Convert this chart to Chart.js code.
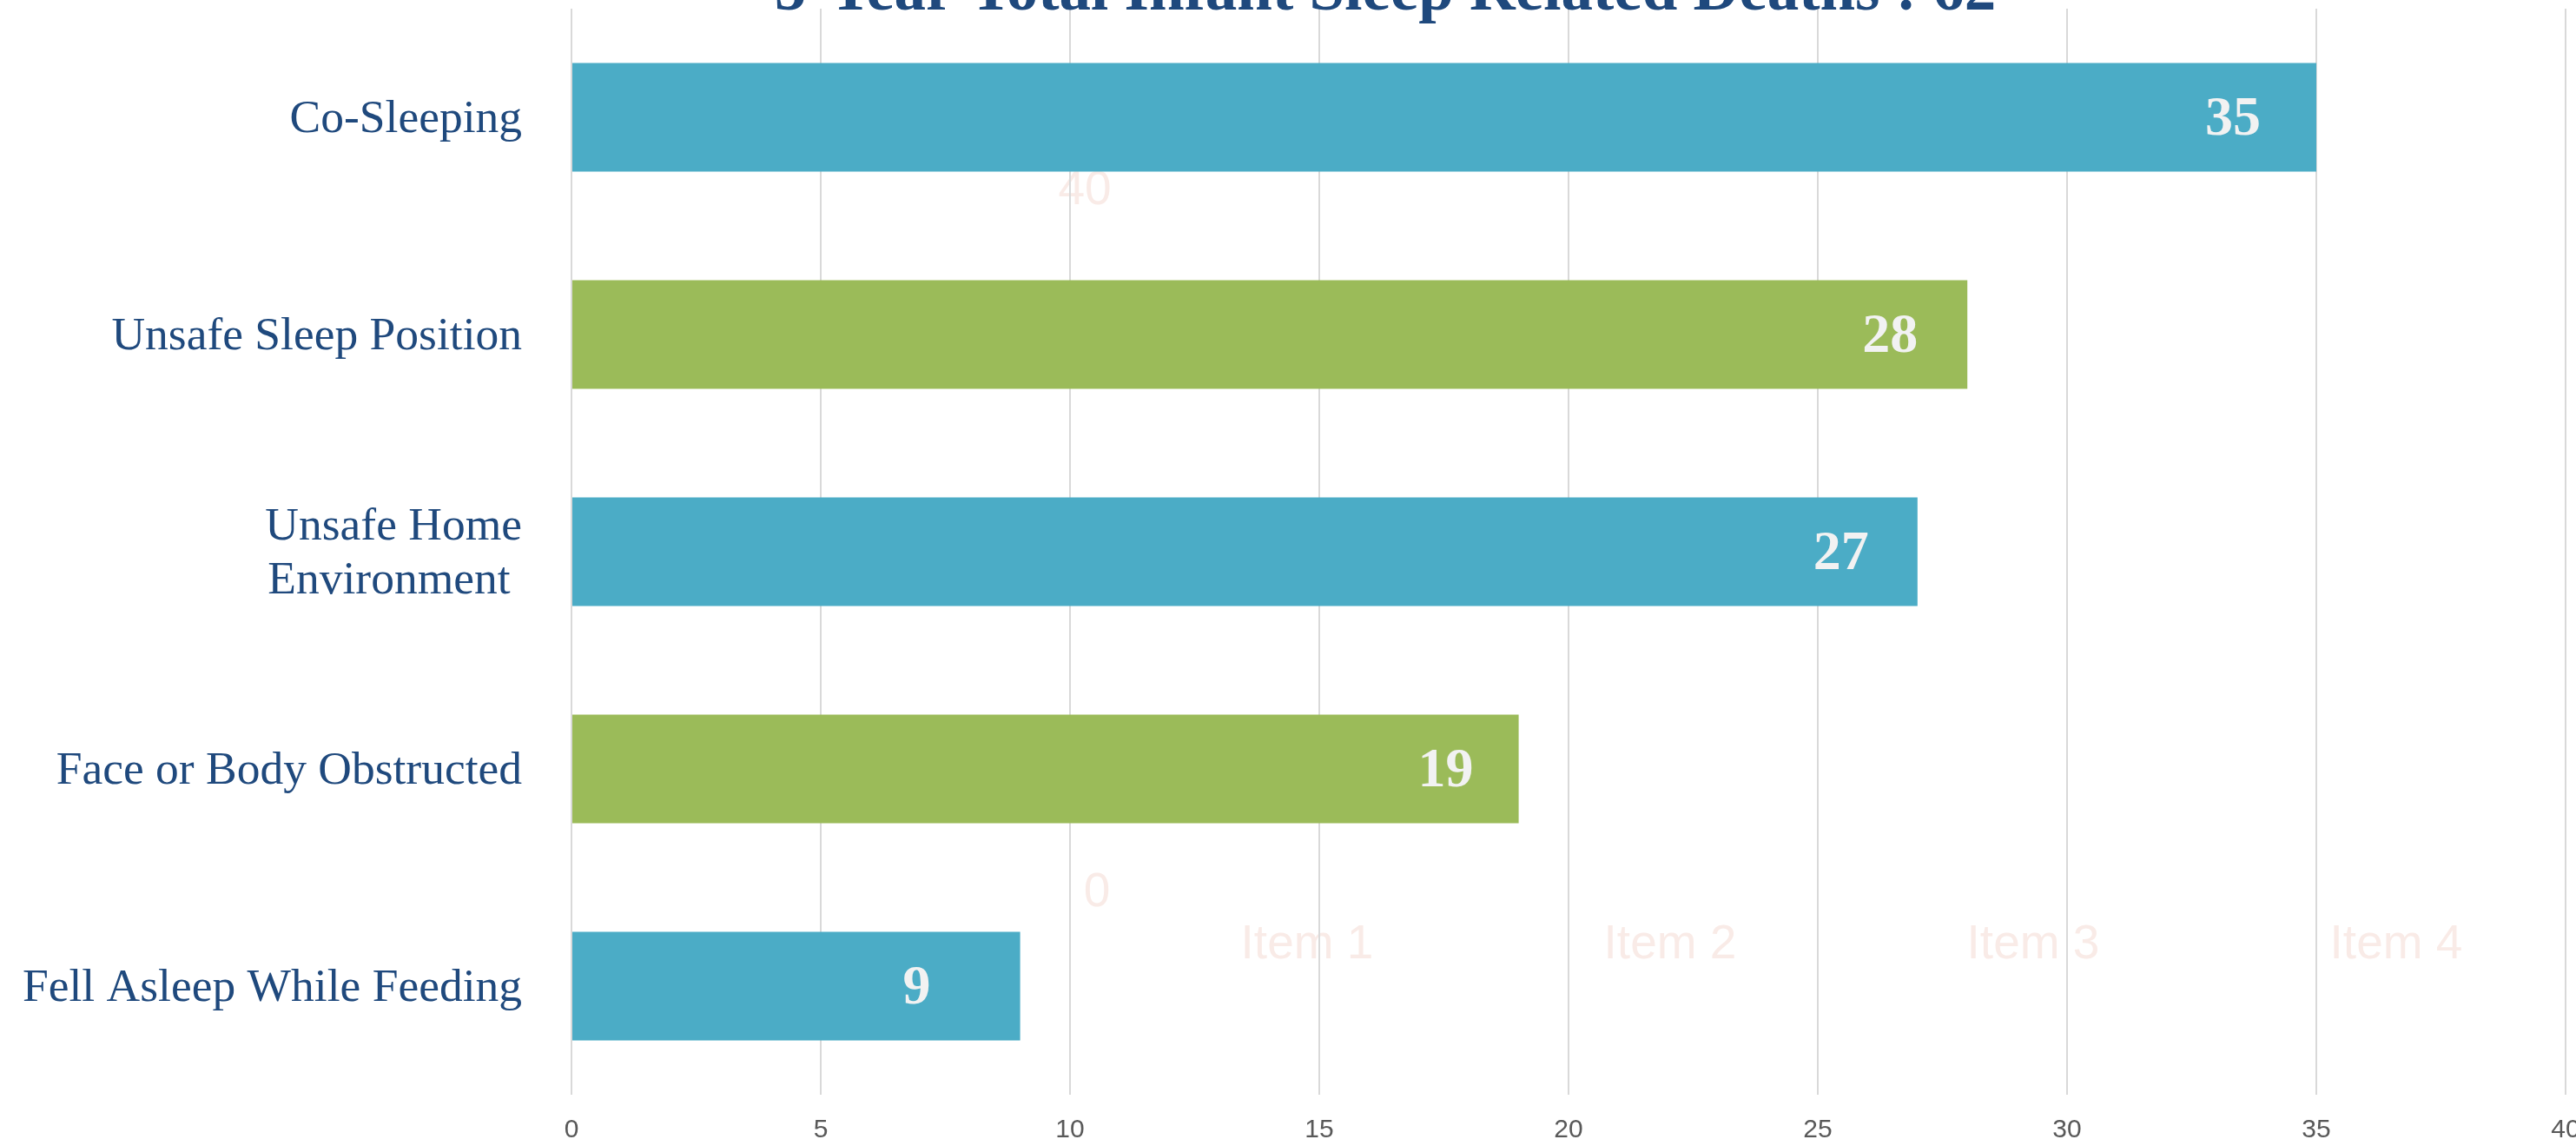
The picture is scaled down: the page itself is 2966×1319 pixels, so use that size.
<!DOCTYPE html>
<html>
<head>
<meta charset="utf-8">
<script src="https://cdn.jsdelivr.net/npm/chart.js@4/dist/chart.umd.min.js"></script>
<style>
  html, body { margin: 0; padding: 0; background: #ffffff; overflow: hidden; }
  #wrap { position: absolute; left: 0; top: 0; width: 2990px; height: 1319px; }
</style>
</head>
<body>
<div id="wrap"><canvas id="c" width="2990" height="1319"></canvas></div>
<script>
// ---- data ----
const titleText = '5-Year Total Infant Sleep Related Deaths : 62';
const categories = [
  'Co-Sleeping',
  'Unsafe Sleep Position',
  ['Unsafe Home', 'Environment '],
  'Face or Body Obstructed',
  'Fell Asleep While Feeding'
];
const deaths = [35, 28, 27, 19, 9];
const xTicks = [0, 5, 10, 15, 20, 25, 30, 35, 40];
// faint leftover labels visible in the background of the original image
const ghostAxisLabels = ['40', '0'];
const ghostItemLabels = ['Item 1', 'Item 2', 'Item 3', 'Item 4'];

// ---- styles ----
const BLUE = '#4bacc6';
const GREEN = '#9bbb59';
const NAVY = '#1f497d';
const barColors = deaths.map((_, i) => (i % 2 === 0 ? BLUE : GREEN));
// how far (px) each value label's centre sits inside its bar end
const labelInset = [96, 89, 88, 84, 119];

const titlePlugin = {
  id: 'clippedTitle',
  afterDraw(chart) {
    const ctx = chart.ctx;
    ctx.save();
    ctx.font = 'bold 73px "Liberation Serif", "Times New Roman", serif';
    ctx.fillStyle = NAVY;
    ctx.textAlign = 'center';
    ctx.textBaseline = 'alphabetic';
    ctx.fillText(titleText, 1595, 11);
    ctx.restore();
  }
};

const ghostPlugin = {
  id: 'ghostText',
  beforeDraw(chart) {
    const ctx = chart.ctx;
    ctx.save();
    ctx.font = '55px "Liberation Sans", Arial, sans-serif';
    ctx.fillStyle = '#f9ebe7';
    ctx.textAlign = 'center';
    ctx.textBaseline = 'middle';
    const axisPos = [[1249, 220], [1263, 1028]];
    ghostAxisLabels.forEach((t, i) => ctx.fillText(t, axisPos[i][0], axisPos[i][1]));
    ghostItemLabels.forEach((t, i) => ctx.fillText(t, 1505 + i * 418, 1088));
    ctx.restore();
  }
};

const valueLabelPlugin = {
  id: 'valueLabels',
  afterDatasetsDraw(chart) {
    const ctx = chart.ctx;
    const meta = chart.getDatasetMeta(0);
    ctx.save();
    ctx.font = 'bold 64px "Liberation Serif", "Times New Roman", serif';
    ctx.fillStyle = '#f2f2f2';
    ctx.textAlign = 'center';
    ctx.textBaseline = 'middle';
    meta.data.forEach((bar, i) => {
      ctx.fillText(String(deaths[i]), bar.x - labelInset[i], bar.y + 3);
    });
    ctx.restore();
  }
};

function noPad(scale) {
  scale.paddingTop = 0;
  scale.paddingBottom = 0;
  scale.paddingLeft = 0;
  scale.paddingRight = 0;
}

new Chart(document.getElementById('c'), {
  type: 'bar',
  data: {
    labels: categories,
    datasets: [{
      data: deaths,
      backgroundColor: barColors,
      borderWidth: 0,
      barPercentage: 0.5,
      categoryPercentage: 1.0
    }]
  },
  options: {
    indexAxis: 'y',
    responsive: false,
    animation: false,
    devicePixelRatio: 1,
    layout: { padding: { top: 10, right: 36, bottom: 0, left: 0 } },
    plugins: {
      legend: { display: false },
      title: { display: false },
      tooltip: { enabled: false }
    },
    scales: {
      x: {
        type: 'linear',
        min: 0,
        max: 40,
        afterBuildTicks(scale) { scale.ticks = xTicks.map(v => ({ value: v })); },
        afterFit(scale) { scale.height = 59; noPad(scale); },
        grid: { color: '#d9d9d9', lineWidth: 2, drawTicks: false },
        border: { display: false },
        ticks: {
          padding: 23,
          color: '#595959',
          font: { family: '"Liberation Sans", Arial, sans-serif', size: 30 }
        }
      },
      y: {
        type: 'category',
        afterFit(scale) { scale.width = 658; noPad(scale); },
        grid: { display: false, drawTicks: false },
        border: { display: false },
        ticks: {
          padding: 57,
          labelOffset: 3,
          color: NAVY,
          font: { family: '"Liberation Serif", "Times New Roman", serif', size: 53.5, lineHeight: 1.15 }
        }
      }
    }
  },
  plugins: [ghostPlugin, valueLabelPlugin, titlePlugin]
});
</script>
</body>
</html>
